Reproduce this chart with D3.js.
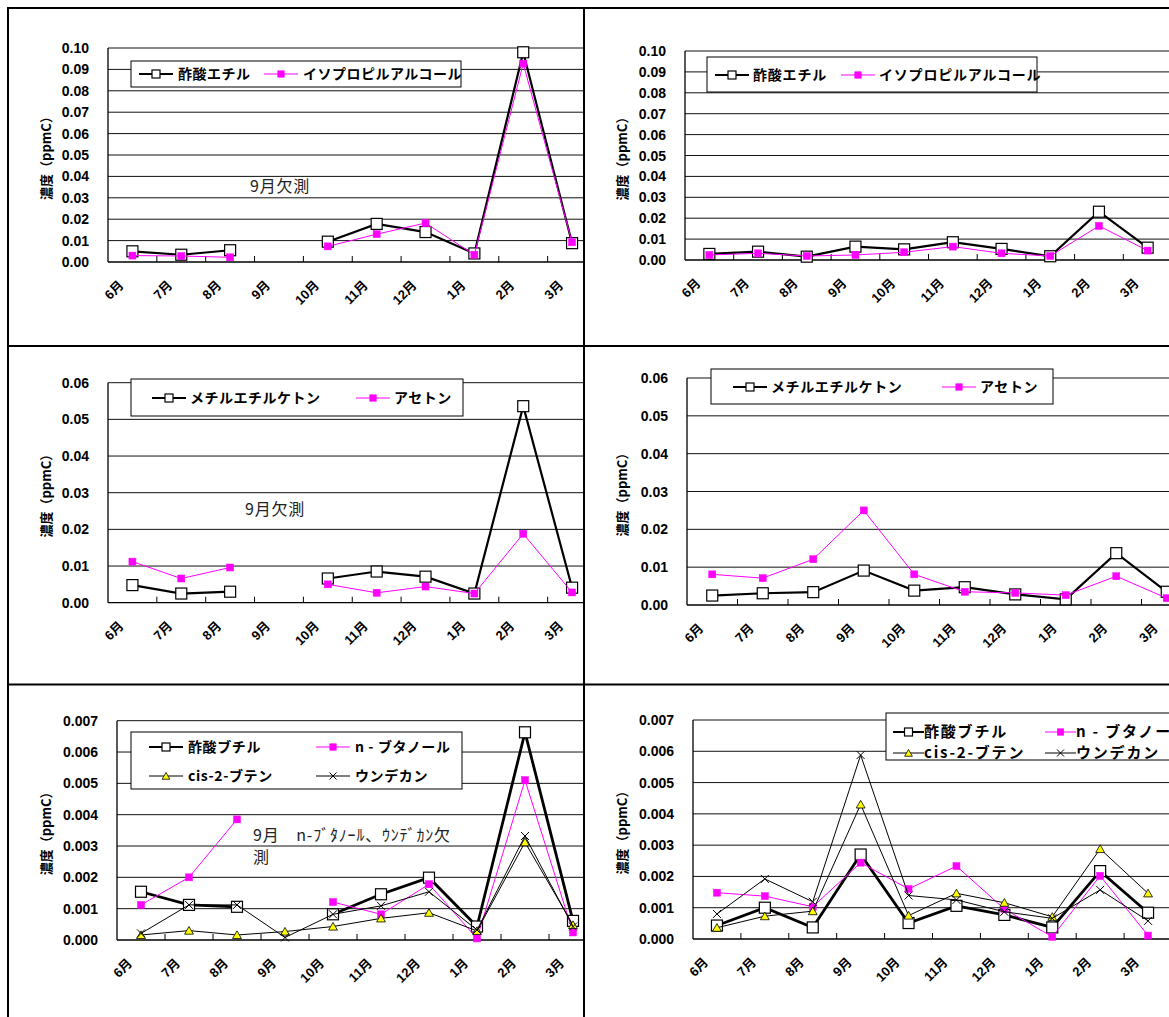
<!DOCTYPE html>
<html>
<head>
<meta charset="utf-8">
<script src="https://cdn.jsdelivr.net/npm/d3@7"></script>
<style>
  body { margin: 0; background: #fff; }
  svg { display: block; }
</style>
</head>
<body>
<svg id="chart" width="1169" height="1017"></svg>
<script>
// Monthly sampling order (June to March)
const months = ["6月", "7月", "8月", "9月", "10月", "11月", "12月", "1月", "2月", "3月"];

// Y tick values for each concentration range
const ticksHigh = [0, 0.01, 0.02, 0.03, 0.04, 0.05, 0.06, 0.07, 0.08, 0.09, 0.10];
const ticksMid = [0, 0.01, 0.02, 0.03, 0.04, 0.05, 0.06];
const ticksLow = [0, 0.001, 0.002, 0.003, 0.004, 0.005, 0.006, 0.007];

// Left column site (September not measured)
const ethylAcetateL = [0.0050, 0.0034, 0.0055, null, 0.0095, 0.0178, 0.0140, 0.0040, 0.0980, 0.0088];
const isopropanolL = [0.0030, 0.0028, 0.0022, null, 0.0073, 0.0130, 0.0182, 0.0034, 0.0927, 0.0092];
const mekL = [0.0048, 0.0025, 0.0030, null, 0.0066, 0.0085, 0.0071, 0.0025, 0.0536, 0.0041];
const acetoneL = [0.0112, 0.0066, 0.0096, null, 0.0050, 0.0027, 0.0044, 0.0025, 0.0188, 0.0028];
const butylAcetateL = [0.00154, 0.00112, 0.00106, null, 0.00082, 0.00146, 0.00199, 0.00043, 0.00663, 0.00061];
const butanolL = [0.00112, 0.00200, 0.00385, null, 0.00121, 0.00082, 0.00178, 0.00005, 0.00510, 0.00024];
const cisButeneL = [0.00016, 0.00030, 0.00016, 0.00027, 0.00043, 0.00069, 0.00087, 0.00029, 0.00312, 0.00048];
const undecaneL = [0.00021, 0.00112, 0.00112, 0.00008, 0.00082, 0.00109, 0.00154, 0.00032, 0.00332, 0.00043];

// Right column site
const ethylAcetateR = [0.0029, 0.0040, 0.0016, 0.0064, 0.0051, 0.0085, 0.0053, 0.0018, 0.0231, 0.0059];
const isopropanolR = [0.0024, 0.0032, 0.0019, 0.0024, 0.0037, 0.0064, 0.0032, 0.0019, 0.0163, 0.0045];
const mekR = [0.0025, 0.0031, 0.0034, 0.0091, 0.0038, 0.0047, 0.0028, 0.0015, 0.0137, 0.0035];
const acetoneR = [0.0081, 0.0071, 0.0121, 0.0250, 0.0081, 0.0035, 0.0032, 0.0026, 0.0076, 0.0018];
const butylAcetateR = [0.00043, 0.00100, 0.00037, 0.00270, 0.00051, 0.00106, 0.00077, 0.00037, 0.00217, 0.00084];
const butanolR = [0.00148, 0.00137, 0.00103, 0.00244, 0.00160, 0.00233, 0.00096, 0.00007, 0.00202, 0.00011];
const cisButeneR = [0.00036, 0.00073, 0.00089, 0.00430, 0.00075, 0.00146, 0.00116, 0.00071, 0.00288, 0.00146];
const undecaneR = [0.00080, 0.00192, 0.00119, 0.00588, 0.00139, 0.00125, 0.00087, 0.00066, 0.00157, 0.00058];

// Series names
const nameEthylAcetate = "酢酸エチル";
const nameIsopropanol = "イソプロピルアルコール";
const nameMek = "メチルエチルケトン";
const nameAcetone = "アセトン";
const nameButylAcetate = "酢酸ブチル";
const nameButanol = "n - ブタノール";
const nameCisButene = "cis-2-ブテン";
const nameUndecane = "ウンデカン";
const yTitle = "濃度（ppmC）";

// ---- styling ----
const LATIN = '"Liberation Sans", Arial, "Noto Sans CJK JP", sans-serif';
const CJK = '"Noto Sans CJK JP", "Liberation Sans", sans-serif';
const PINK = "#ff00ff";

const styles = {
  boldSquare: { stroke: "#000", width: 2.2, marker: "openSquare" },
  heavySquare: { stroke: "#000", width: 2.8, marker: "openSquare" },
  pink: { stroke: PINK, width: 1, marker: "pinkSquare" },
  triangle: { stroke: "#000", width: 1, marker: "triangle" },
  cross: { stroke: "#000", width: 1, marker: "cross" }
};

// Cell grid of the sheet the charts sit in
const colX = [[8, 584], [584, 1169]];
const rowY = [[8, 346], [346, 684.5], [684.5, 1017]];

const panels = [
  { col: 0, row: 0, x0: 108, band: 48.85, yTop: 48, yBot: 262, ticks: ticksHigh, fmt: ".2f",
    series: [[nameEthylAcetate, ethylAcetateL, "boldSquare"], [nameIsopropanol, isopropanolL, "pink"]],
    legend: { box: [131, 61, 461, 87], items: [[139, 74], [264, 74]], lineLen: 34, gap: 39, font: 14, ls: 0.5 },
    note: { x: 250, y: 186, lines: ["9月欠測"] } },
  { col: 1, row: 0, x0: 685, band: 48.7, yTop: 51, yBot: 260, ticks: ticksHigh, fmt: ".2f",
    series: [[nameEthylAcetate, ethylAcetateR, "boldSquare"], [nameIsopropanol, isopropanolR, "pink"]],
    legend: { box: [707, 57, 1037, 92], items: [[715, 75], [841, 75]], lineLen: 34, gap: 38, font: 14, ls: 0.8 } },
  { col: 0, row: 1, x0: 108, band: 48.85, yTop: 382.7, yBot: 602.7, ticks: ticksMid, fmt: ".2f",
    series: [[nameMek, mekL, "boldSquare"], [nameAcetone, acetoneL, "pink"]],
    legend: { box: [131, 379, 463, 416], items: [[152, 398], [356, 398]], lineLen: 34, gap: 38, font: 14, ls: 0.5 },
    note: { x: 245, y: 509, lines: ["9月欠測"] } },
  { col: 1, row: 1, x0: 687, band: 50.5, yTop: 378, yBot: 605, ticks: ticksMid, fmt: ".2f",
    series: [[nameMek, mekR, "boldSquare"], [nameAcetone, acetoneR, "pink"]],
    legend: { box: [711, 369, 1053, 404], items: [[733, 387], [942, 387]], lineLen: 34, gap: 38, font: 14, ls: 0.6 } },
  { col: 0, row: 2, x0: 117, band: 48, yTop: 720.7, yBot: 940, ticks: ticksLow, fmt: ".3f",
    series: [[nameButylAcetate, butylAcetateL, "heavySquare"], [nameButanol, butanolL, "pink"],
             [nameCisButene, cisButeneL, "triangle"], [nameUndecane, undecaneL, "cross"]],
    legend: { box: [131, 732, 462, 789], items: [[149, 747], [316, 747], [149, 776], [316, 776]], lineLen: 34, gap: 39, font: 14, ls: 0.6 },
    note: { x: 253, y: 835, lines: ["9月　n-ﾌﾞﾀﾉｰﾙ、ｳﾝﾃﾞｶﾝ欠", "測"] } },
  { col: 1, row: 2, x0: 693, band: 47.9, yTop: 720, yBot: 939, ticks: ticksLow, fmt: ".3f",
    series: [[nameButylAcetate, butylAcetateR, "heavySquare"], [nameButanol, butanolR, "pink"],
             [nameCisButene, cisButeneR, "triangle"], [nameUndecane, undecaneR, "cross"]],
    legend: { box: [886, 713, 1200, 760], items: [[893, 732], [1045, 732], [893, 753], [1045, 753]], lineLen: 31, gap: 31, font: 15, ls: 1.8 } }
];

const svg = d3.select("#chart");
const defs = svg.append("defs");

function drawMarker(g, kind, x, y, legend) {
  if (kind === "openSquare") {
    const s = legend ? 8 : 11;
    g.append("rect").attr("x", x - s / 2).attr("y", y - s / 2).attr("width", s).attr("height", s)
      .attr("fill", "#fff").attr("stroke", "#000").attr("stroke-width", 1.2);
  } else if (kind === "pinkSquare") {
    const s = legend ? 6.5 : 7;
    g.append("rect").attr("x", x - s / 2).attr("y", y - s / 2).attr("width", s).attr("height", s)
      .attr("fill", PINK).attr("stroke", PINK).attr("stroke-width", 0.5);
  } else if (kind === "triangle") {
    const sym = d3.symbol(d3.symbolTriangle, legend ? 26 : 34);
    g.append("path").attr("d", sym()).attr("transform", `translate(${x},${y + 1})`)
      .attr("fill", "#ffff00").attr("stroke", "#000").attr("stroke-width", 0.8);
  } else if (kind === "cross") {
    const h = legend ? 3.5 : 4;
    g.append("path").attr("d", `M${x - h},${y - h}L${x + h},${y + h}M${x - h},${y + h}L${x + h},${y - h}`)
      .attr("stroke", "#000").attr("stroke-width", 1).attr("fill", "none");
  }
}

panels.forEach((p, idx) => {
  const [cx0, cx1] = colX[p.col];
  const [cy0, cy1] = rowY[p.row];
  defs.append("clipPath").attr("id", "cell" + idx)
    .append("rect").attr("x", cx0).attr("y", cy0).attr("width", cx1 - cx0).attr("height", cy1 - cy0);
  const g = svg.append("g").attr("clip-path", `url(#cell${idx})`);

  const x = d3.scaleBand().domain(months).range([p.x0, p.x0 + p.band * months.length]).padding(0);
  const y = d3.scaleLinear().domain([0, p.ticks[p.ticks.length - 1]]).range([p.yBot, p.yTop]);
  const xEnd = p.x0 + p.band * months.length;
  const cxOf = m => x(m) + x.bandwidth() / 2;

  // horizontal gridlines
  g.append("g").selectAll("line").data(p.ticks.slice(1)).join("line")
    .attr("x1", p.x0).attr("x2", xEnd).attr("y1", d => y(d)).attr("y2", d => y(d))
    .attr("stroke", "#111").attr("stroke-width", 1);

  // y tick labels
  g.append("g").selectAll("text").data(p.ticks).join("text")
    .attr("x", p.x0 - 19).attr("y", d => y(d)).attr("dy", "0.36em")
    .attr("text-anchor", "end").attr("font-family", LATIN).attr("font-weight", "bold")
    .attr("font-size", 14).attr("fill", "#000")
    .text(d => d3.format(p.fmt)(d));

  // y axis title
  g.append("text")
    .attr("transform", `translate(${cx0 + (p.col === 0 ? 38 : 38)},${(p.yTop + p.yBot) / 2}) rotate(-90)`)
    .attr("text-anchor", "middle").attr("dy", "0.36em")
    .attr("font-family", CJK).attr("font-weight", "bold").attr("font-size", 13)
    .text(yTitle);

  // axes
  g.append("line").attr("x1", p.x0).attr("x2", p.x0).attr("y1", p.yTop).attr("y2", p.yBot)
    .attr("stroke", "#000").attr("stroke-width", 1.3);
  g.append("line").attr("x1", p.x0).attr("x2", xEnd).attr("y1", p.yBot).attr("y2", p.yBot)
    .attr("stroke", "#000").attr("stroke-width", 1.3);
  // inside tick marks at category boundaries
  g.append("g").selectAll("line").data(months.slice(1)).join("line")
    .attr("x1", d => x(d)).attr("x2", d => x(d)).attr("y1", p.yBot).attr("y2", p.yBot - 6)
    .attr("stroke", "#000").attr("stroke-width", 1);

  // category labels, rotated
  g.append("g").selectAll("text").data(months).join("text")
    .attr("transform", d => `translate(${cxOf(d) - 8},${p.yBot + 24}) rotate(-45)`)
    .attr("text-anchor", "end").attr("font-family", LATIN).attr("font-weight", "bold")
    .attr("font-size", 13).text(d => d);

  // note text
  if (p.note) {
    const t = g.append("text").attr("font-family", CJK).attr("font-size", 16)
      .attr("letter-spacing", 0.8).attr("fill", "#222");
    p.note.lines.forEach((ln, i) => {
      t.append("tspan").attr("x", p.note.x).attr("y", p.note.y + i * 22).attr("dy", "0.36em").text(ln);
    });
  }

  // series
  p.series.forEach(([name, values, styleKey]) => {
    const st = styles[styleKey];
    const pts = months.map((m, i) => ({ m, v: values[i] }));
    const line = d3.line().defined(d => d.v != null).x(d => cxOf(d.m)).y(d => y(d.v));
    g.append("path").datum(pts).attr("d", line).attr("fill", "none")
      .attr("stroke", st.stroke).attr("stroke-width", st.width).attr("stroke-linejoin", "miter");
    const mg = g.append("g");
    pts.filter(d => d.v != null).forEach(d => drawMarker(mg, st.marker, cxOf(d.m), y(d.v), false));
  });

  // legend
  const L = p.legend;
  const lg = g.append("g");
  lg.append("rect").attr("x", L.box[0]).attr("y", L.box[1])
    .attr("width", L.box[2] - L.box[0]).attr("height", L.box[3] - L.box[1])
    .attr("fill", "#fff").attr("stroke", "#000").attr("stroke-width", 1);
  p.series.forEach(([name, values, styleKey], i) => {
    const st = styles[styleKey];
    const [lx, ly] = L.items[i];
    lg.append("line").attr("x1", lx).attr("x2", lx + L.lineLen).attr("y1", ly).attr("y2", ly)
      .attr("stroke", st.stroke).attr("stroke-width", Math.min(st.width, 2));
    drawMarker(lg, st.marker, lx + L.lineLen / 2, ly, true);
    lg.append("text").attr("x", lx + L.gap).attr("y", ly).attr("dy", "0.36em")
      .attr("font-family", CJK).attr("font-weight", "bold").attr("font-size", L.font)
      .attr("letter-spacing", L.ls).text(name);
  });
});

// sheet cell borders
const borders = svg.append("g").attr("stroke", "#000").attr("stroke-width", 2);
borders.append("line").attr("x1", 7).attr("x2", 1169).attr("y1", 8).attr("y2", 8);
borders.append("line").attr("x1", 8).attr("x2", 8).attr("y1", 7).attr("y2", 1017);
borders.append("line").attr("x1", 584).attr("x2", 584).attr("y1", 7).attr("y2", 1017);
borders.append("line").attr("x1", 7).attr("x2", 1169).attr("y1", 346).attr("y2", 346);
borders.append("line").attr("x1", 7).attr("x2", 1169).attr("y1", 684.5).attr("y2", 684.5);
</script>
</body>
</html>
